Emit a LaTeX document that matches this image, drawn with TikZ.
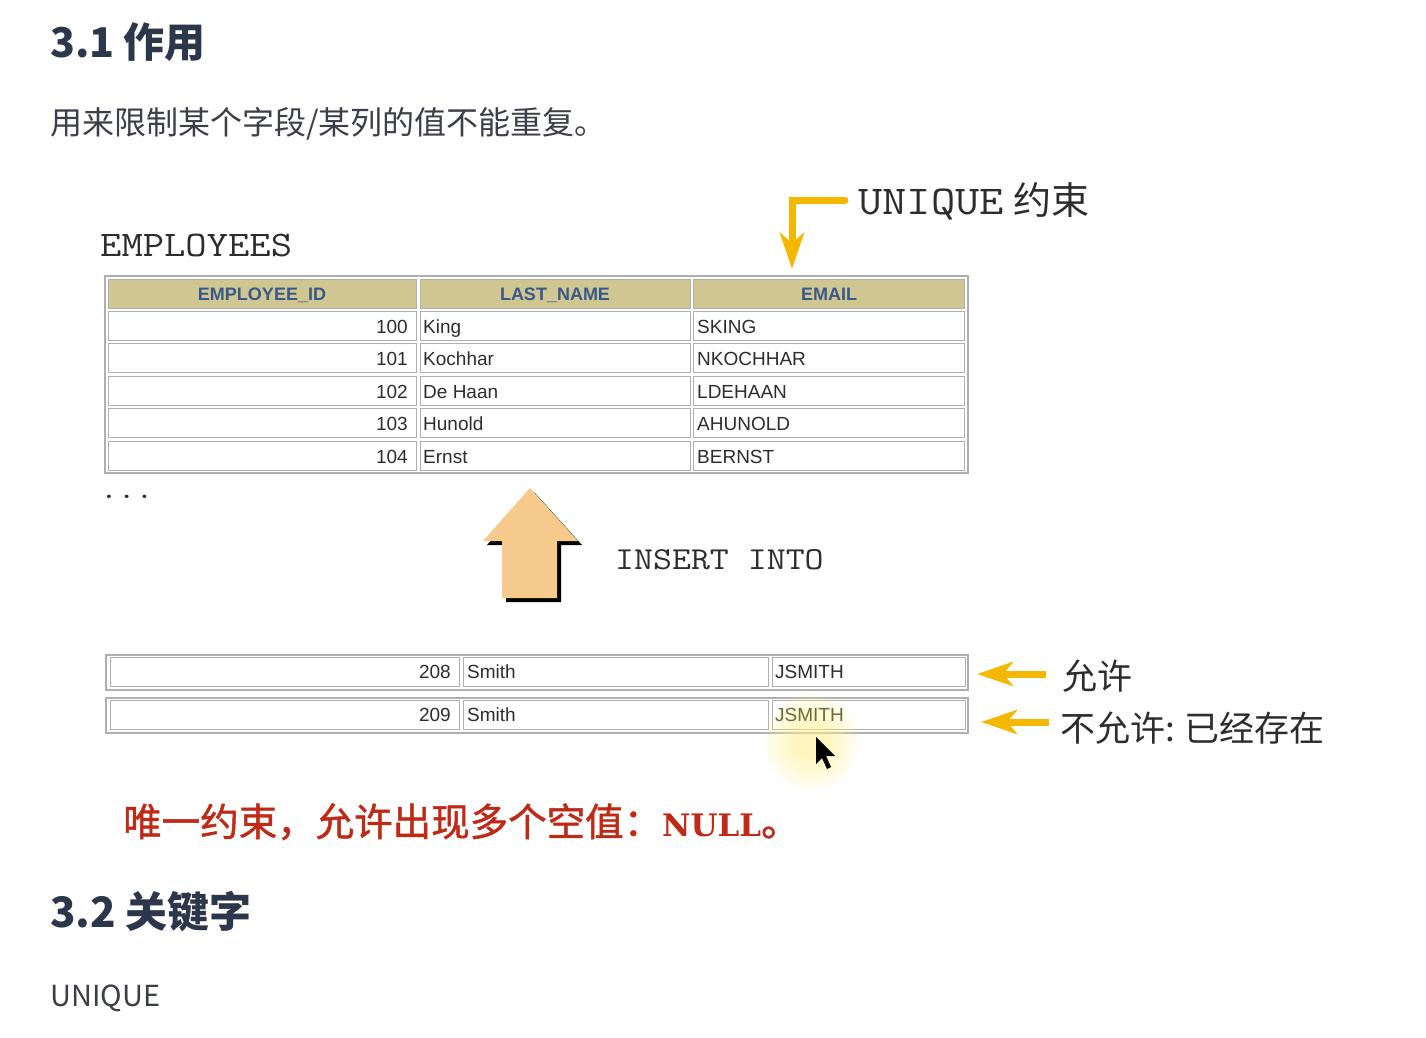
\documentclass[tikz,border=0pt]{standalone}
\usepackage{fontspec}
\setmainfont{Liberation Sans}
\newfontfamily\cjk{Noto Sans CJK SC}
\newfontfamily\cjkmed[FakeBold=1.2]{Noto Sans CJK SC}
\newfontfamily\slab{DejaVu Serif}
\usetikzlibrary{arrows.meta}
\definecolor{headc}{RGB}{45,55,75}
\definecolor{bodyc}{RGB}{60,62,72}
\definecolor{tanc}{RGB}{207,198,146}
\definecolor{hdrblue}{RGB}{58,88,138}
\definecolor{cellline}{RGB}{175,175,175}
\definecolor{ylw}{RGB}{245,184,0}
\definecolor{arrowfill}{RGB}{246,202,140}
\definecolor{redc}{RGB}{190,42,22}
\definecolor{celltext}{RGB}{45,45,45}
\definecolor{glowc}{RGB}{255,242,150}
\newcommand\courtxt[2]{\scalebox{1.15}[1]{\fontsize{#1}{#1}\selectfont\ttfamily #2}}
\tikzset{
  cellbox/.style={draw=cellline, line width=1.3pt, fill=white, inner sep=0pt, anchor=north west, minimum height=29pt},
  hdrbox/.style={cellbox, fill=tanc},
  frame/.style={draw=cellline, line width=1.5pt},
  hdrtxt/.style={font=\fontsize{18}{18}\selectfont\bfseries, text=hdrblue, anchor=base, inner sep=0pt},
  celltxt/.style={font=\fontsize{19}{19}\selectfont, text=celltext, inner sep=0pt},
  numtxt/.style={celltxt, anchor=base east},
  strtxt/.style={celltxt, anchor=base west},
  yarr/.style={draw=ylw, line width=7pt, -{Stealth[length=36pt,width=24pt,inset=10pt]}},
  cjklab/.style={font=\cjk\fontsize{35}{35}\selectfont, text=celltext, anchor=base west, inner sep=0pt},
}
\begin{document}
\begin{tikzpicture}[x=1pt,y=-1pt]
\useasboundingbox[fill=white] (0,0) rectangle (1426,1038);

% headings and body text
\node[anchor=base west, inner sep=0pt, text=headc, font=\cjk\bfseries\fontsize{41}{41}\selectfont] (h31) at (50,58) {3.1 作用};
\node[anchor=base west, inner sep=0pt, text=bodyc, font=\cjk\fontsize{32}{32}\selectfont] (desc) at (50,135) {用来限制某个字段/某列的值不能重复。};

% EMPLOYEES label
\node[anchor=base west, inner sep=0pt, text=celltext] (emp) at (100,256) {\courtxt{36}{EMPLOYEES}};

% UNIQUE label
\node[anchor=base west, inner sep=0pt, text=celltext] (uq) at (858,214) {\courtxt{41}{UNIQUE}\hspace{10pt}{\cjk\fontsize{38}{38}\selectfont 约束}};

% main table
\draw[frame] (105,276) rectangle (968,473);
\node[hdrbox, minimum width=308pt] (hA) at (108,279) {};
\node[hdrbox, minimum width=270pt] (hB) at (420,279) {};
\node[hdrbox, minimum width=271pt] (hC) at (693,279) {};
\node[hdrtxt] at (262,300) {EMPLOYEE\_ID};
\node[hdrtxt] at (555,300) {LAST\_NAME};
\node[hdrtxt] at (829,300) {EMAIL};

\foreach \t/\id/\nm/\em [count=\i] in {311/100/King/SKING, 343/101/Kochhar/NKOCHHAR, 376/102/De Haan/LDEHAAN, 408/103/Hunold/AHUNOLD, 441/104/Ernst/BERNST}{
  \node[cellbox, minimum width=308pt] (rA\i) at (108,\t) {};
  \node[cellbox, minimum width=270pt] (rB\i) at (420,\t) {};
  \node[cellbox, minimum width=271pt] (rC\i) at (693,\t) {};
  \node[numtxt] at (408,\t+22) {\id};
  \node[strtxt] at (423,\t+22) {\nm};
  \node[strtxt] at (697,\t+22) {\em};
}
\node[anchor=base west, inner sep=0pt, text=celltext] (dots) at (100,498) {\courtxt{30}{...}};

% insert arrow with shadow
\fill[black] (534,492) -- (582,545) -- (561,545) -- (561,602) -- (506,602) -- (506,545) -- (487,545) -- cycle;
\fill[arrowfill] (530,488) -- (578,541) -- (557,541) -- (557,598) -- (502,598) -- (502,541) -- (483,541) -- cycle;
\node[anchor=base west, inner sep=0pt, text=celltext] (ins) at (615,569) {\courtxt{32}{INSERT INTO}};

% lower rows
\draw[frame] (106,655) rectangle (968,690);
\node[cellbox, minimum width=349pt] (sA1) at (110,657) {};
\node[cellbox, minimum width=305pt] (sB1) at (463,657) {};
\node[cellbox, minimum width=193pt] (sC1) at (772,657) {};
\draw[frame] (106,698) rectangle (968,733);
\node[cellbox, minimum width=349pt] (sA2) at (110,700) {};
\node[cellbox, minimum width=305pt] (sB2) at (463,700) {};
\node[cellbox, minimum width=193pt] (sC2) at (772,700) {};

% cursor glow
\foreach \r in {48,44,...,16}{
  \fill[glowc, opacity=0.09] (812,742) circle (\r);
}

\node[numtxt] at (451,678) {208};
\node[strtxt] at (467,678) {Smith};
\node[strtxt] at (775,678) {JSMITH};
\node[numtxt] at (451,721) {209};
\node[strtxt] at (467,721) {Smith};
\node[strtxt, text={rgb,255:red,110;green,105;blue,60}] at (775,721) {JSMITH};

% cursor
\fill[black] (816,737) -- (816,764) -- (822,758) -- (827,769) -- (831,767) -- (826,756) -- (835,756) -- cycle;

% labels and yellow arrows
\node[cjklab] (ok) at (1062,689) {允许};
\node[cjklab] (no) at (1060,741) {不允许:\hspace{10pt}已经存在};
\coordinate (okS) at (1046,674);
\coordinate (okE) at (977,674);
\coordinate (noS) at (1049,722);
\coordinate (noE) at (981,722);
\draw[yarr] (okS) -- (okE);
\draw[yarr] (noS) -- (noE);
\coordinate (uqS) at (845,200);
\coordinate (uqC) at (792,200);
\coordinate (uqE) at (792,269);
\draw[yarr, line cap=round] (uqS) -- (uqC) -- (uqE);

% red note
\node[anchor=base west, inner sep=0pt, text=redc, font=\cjkmed\fontsize{38.5}{38.5}\selectfont] (note) at (123,836) {唯一约束，允许出现多个空值：{\slab\bfseries\fontsize{31}{31}\selectfont NULL}。};

% 3.2
\node[anchor=base west, inner sep=0pt, text=headc, font=\cjk\bfseries\fontsize{42}{42}\selectfont] (h32) at (50,927) {3.2 关键字};
\node[anchor=base west, inner sep=0pt, text=bodyc, font=\cjk\fontsize{29}{29}\selectfont] (kw) at (50,1006) {UNIQUE};
\end{tikzpicture}
\end{document}
